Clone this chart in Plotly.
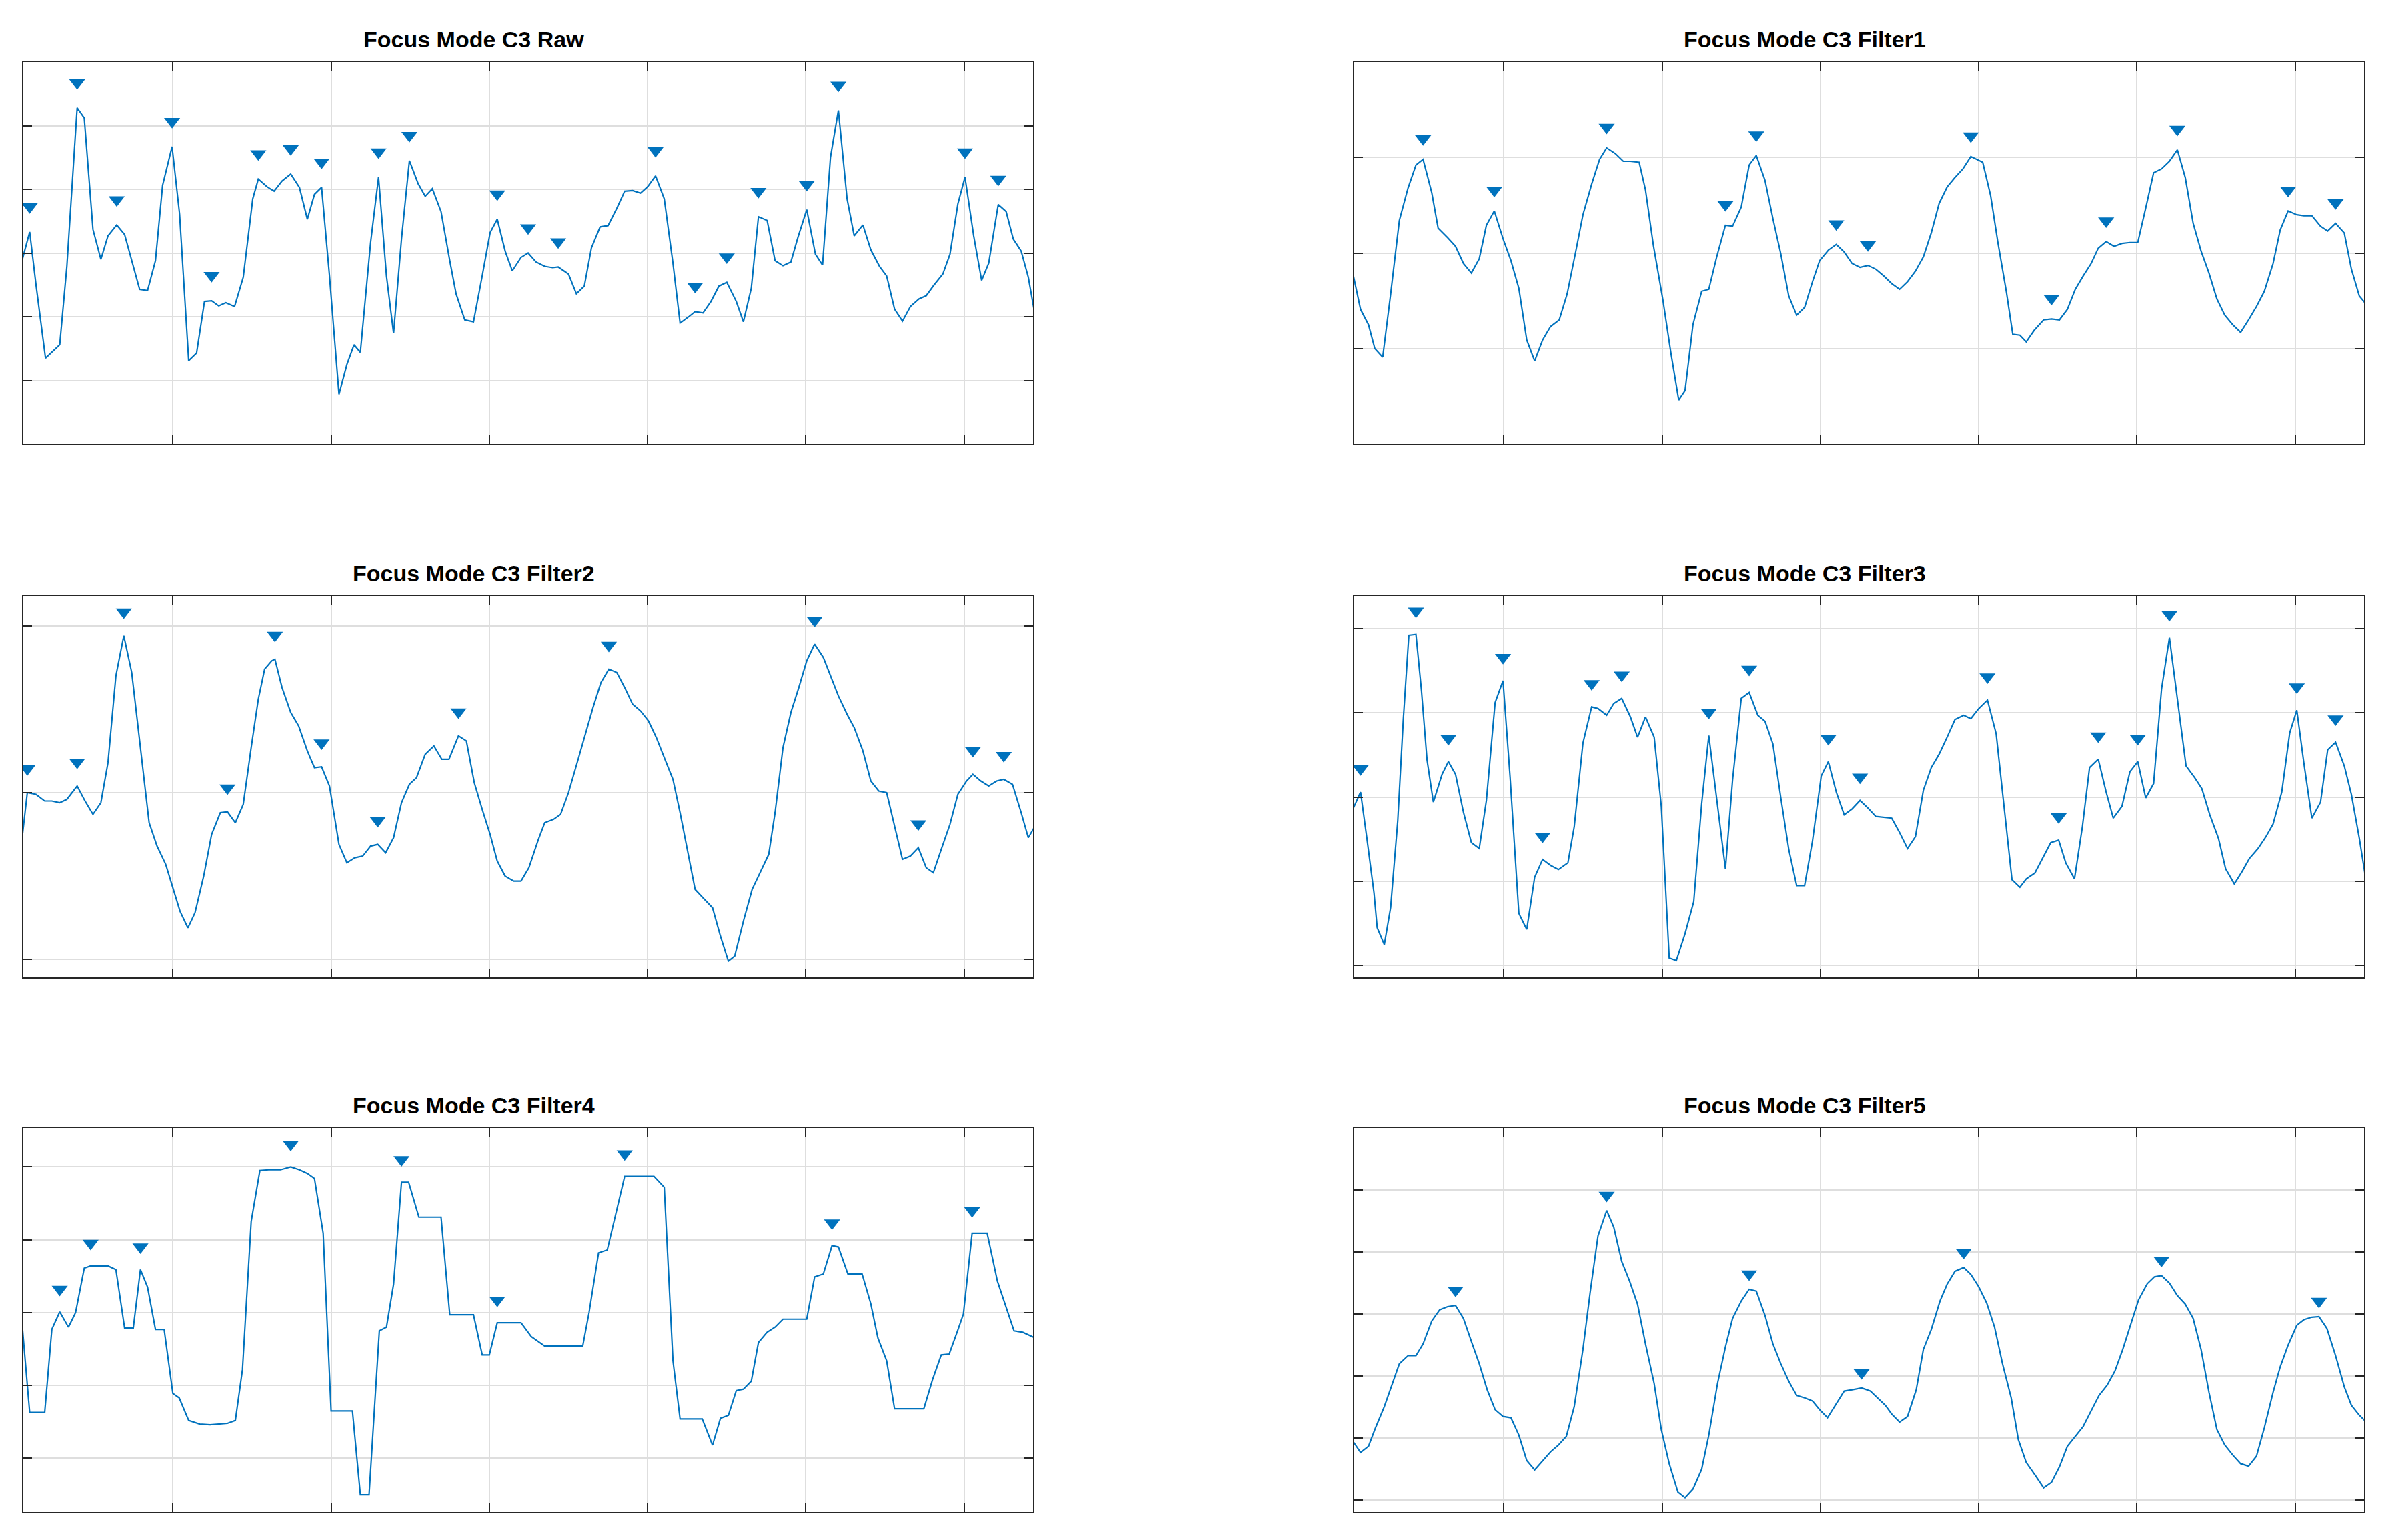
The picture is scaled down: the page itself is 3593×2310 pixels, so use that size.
import numpy as np
import plotly.graph_objects as go

# ---------------- data (sample index, signal value in grid units) ----------------
TITLES = ["Focus Mode C3 Raw", "Focus Mode C3 Filter1",
          "Focus Mode C3 Filter2", "Focus Mode C3 Filter3",
          "Focus Mode C3 Filter4", "Focus Mode C3 Filter5"]

X_TICKS = [20, 40, 60, 80, 100, 120]
X_RANGE = [1.1, 128.7]

RAW_X = [1, 1.9, 2.7, 3.9, 5.7, 6.6, 7.9, 8.8, 9.9, 10.9, 11.8, 12.9, 13.9, 15.0, 15.8, 16.8, 17.8, 18.7, 19.9,
         20.85, 22.0, 23.0, 24.0, 24.9, 25.8, 26.7, 27.8, 28.9, 30.1, 30.8, 31.9, 32.8, 33.8, 34.9, 36.0, 37.0,
         37.9, 38.8, 39.8, 41.0, 42.0, 42.9, 43.7, 45.0, 46.0, 47.0, 47.9, 48.9, 49.9, 51.0, 51.9, 52.8, 53.9,
         55.0, 55.8, 56.9, 58.0, 59.1, 60.1, 61.0, 62.0, 62.9, 64.0, 64.9, 65.9, 67.0, 68.0, 68.7, 70.0, 71.0,
         72.0, 72.9, 74.0, 75.0, 76.1, 77.1, 78.1, 79.1, 80.0, 81.0, 82.1, 83.2, 84.1, 85.2, 86.0, 87.0, 88.0,
         89.0, 90.0, 91.2, 92.1, 93.1, 94.0, 95.1, 96.1, 97.1, 98.1, 99.0, 100.1, 101.2, 102.1, 103.1, 104.1,
         105.2, 106.1, 107.2, 108.2, 109.3, 110.2, 111.2, 112.2, 113.2, 114.3, 115.2, 116.2, 117.3, 118.2,
         119.2, 120.1, 121.2, 122.2, 123.1, 124.3, 125.3, 126.2, 127.2, 128.1, 129.2]
RAW_Y = [-0.09, 0.33, -0.5, -1.65, -1.44, -0.21, 2.28, 2.12, 0.37, -0.1, 0.27, 0.44, 0.29, -0.21, -0.57, -0.59,
         -0.12, 1.06, 1.67, 0.61, -1.69, -1.57, -0.76, -0.75, -0.83, -0.78, -0.84, -0.38, 0.85, 1.16, 1.04, 0.97,
         1.13, 1.24, 1.03, 0.53, 0.92, 1.03, -0.36, -2.22, -1.75, -1.44, -1.56, 0.17, 1.19, -0.36, -1.26, 0.22,
         1.45, 1.09, 0.89, 1.01, 0.65, -0.12, -0.64, -1.05, -1.08, -0.36, 0.32, 0.53, 0.03, -0.28, -0.07, 0.0,
         -0.14, -0.21, -0.23, -0.22, -0.33, -0.64, -0.52, 0.08, 0.41, 0.43, 0.7, 0.97, 0.98, 0.94, 1.04, 1.21,
         0.85, -0.16, -1.1, -1.0, -0.92, -0.94, -0.76, -0.52, -0.46, -0.76, -1.08, -0.55, 0.57, 0.51, -0.12,
         -0.2, -0.14, 0.25, 0.68, -0.02, -0.19, 1.5, 2.24, 0.85, 0.27, 0.44, 0.05, -0.21, -0.36, -0.88, -1.07,
         -0.84, -0.72, -0.67, -0.5, -0.33, -0.02, 0.77, 1.19, 0.27, -0.43, -0.16, 0.76, 0.65, 0.22, 0.03, -0.38,
         -1.15]
RAW_PEAKS = [1.9, 7.9, 12.9, 19.9, 24.9, 30.8, 34.9, 38.8, 46.0, 49.9, 61.0, 64.9, 68.7, 81.0, 86.0, 90.0,
             94.0, 100.1, 104.1, 120.1, 124.3]

F1_X = [1, 1.9, 2.9, 3.7, 4.7, 5.7, 6.8, 7.9, 8.9, 9.8, 10.9, 11.7, 12.9, 13.9, 14.9, 15.9, 16.9, 17.8, 18.8,
        19.9, 20.9, 21.9, 22.9, 23.9, 24.9, 25.9, 27.0, 28.0, 29.1, 30.0, 31.1, 32.1, 33.0, 34.1, 35.1, 36.0,
        37.1, 37.9, 38.9, 40.1, 41.1, 42.1, 42.9, 43.9, 45.0, 45.9, 46.9, 48.0, 48.9, 50.0, 51.0, 51.9, 53.0,
        54.0, 55.0, 56.0, 57.0, 58.0, 59.0, 59.9, 61.0, 62.0, 63.0, 64.0, 65.0, 66.0, 67.0, 68.0, 69.0, 70.0,
        71.0, 72.0, 73.0, 74.0, 75.0, 76.0, 77.0, 78.0, 79.0, 80.5, 81.5, 82.4, 83.5, 84.3, 85.2, 86.0, 87.0,
        88.2, 89.2, 90.2, 91.2, 92.2, 93.2, 94.2, 95.1, 96.1, 97.1, 98.1, 99.1, 100.1, 101.1, 102.1, 103.1,
        104.1, 105.1, 106.1, 107.1, 108.1, 109.1, 110.1, 111.1, 112.1, 113.1, 114.1, 115.1, 116.1, 117.2,
        118.1, 119.1, 120.2, 121.1, 122.1, 123.2, 124.1, 125.1, 126.2, 127.1, 128.1, 129.0]
F1_Y = [-0.24, -0.59, -0.75, -1.0, -1.09, -0.43, 0.34, 0.68, 0.92, 0.98, 0.63, 0.26, 0.16, 0.07, -0.11, -0.21,
        -0.06, 0.29, 0.44, 0.15, -0.08, -0.37, -0.91, -1.13, -0.91, -0.77, -0.7, -0.43, 0.02, 0.4, 0.72, 0.98,
        1.1, 1.04, 0.96, 0.96, 0.95, 0.66, 0.08, -0.49, -1.04, -1.54, -1.44, -0.75, -0.4, -0.38, -0.04, 0.29,
        0.28, 0.48, 0.92, 1.02, 0.76, 0.36, -0.01, -0.45, -0.65, -0.57, -0.3, -0.08, 0.03, 0.09, 0.01, -0.11,
        -0.15, -0.13, -0.17, -0.24, -0.32, -0.38, -0.3, -0.19, -0.04, 0.21, 0.52, 0.69, 0.79, 0.88, 1.01, 0.95,
        0.6, 0.12, -0.41, -0.85, -0.86, -0.93, -0.81, -0.7, -0.69, -0.7, -0.59, -0.38, -0.24, -0.11, 0.05,
        0.12, 0.07, 0.1, 0.11, 0.11, 0.47, 0.84, 0.88, 0.96, 1.08, 0.79, 0.31, 0.02, -0.21, -0.48, -0.65,
        -0.75, -0.83, -0.7, -0.56, -0.4, -0.11, 0.24, 0.44, 0.4, 0.39, 0.39, 0.28, 0.23, 0.31, 0.21, -0.17,
        -0.45, -0.54]
F1_PEAKS = [9.8, 18.8, 33.0, 48.0, 51.9, 62.0, 66.0, 79.0, 89.2, 96.1, 105.1, 119.1, 125.1]

F2_X = [1, 1.6, 2.7, 3.8, 4.7, 5.7, 6.6, 7.9, 8.9, 9.9, 10.9, 11.8, 12.8, 13.8, 14.8, 15.8, 17.0, 18.0, 19.1,
        20.0, 20.9, 21.9, 22.8, 23.9, 24.9, 26.0, 26.9, 27.9, 28.9, 29.9, 30.8, 31.6, 32.5, 32.9, 33.8, 34.9,
        35.9, 37.0, 37.9, 38.8, 39.8, 41.0, 42.0, 43.0, 44.0, 45.0, 45.9, 46.9, 47.9, 48.9, 49.9, 50.8, 51.9,
        53.0, 54.0, 54.9, 56.1, 57.1, 58.1, 59.1, 60.1, 61.0, 62.0, 63.1, 64.0, 65.0, 66.2, 67.0, 68.1, 69.0,
        70.0, 71.1, 72.0, 73.1, 74.1, 75.1, 76.1, 77.1, 78.1, 79.1, 80.1, 81.1, 82.1, 83.2, 84.1, 85.2, 86.0,
        87.0, 88.2, 89.2, 90.2, 91.0, 92.1, 93.2, 94.2, 95.3, 96.1, 97.1, 98.1, 99.1, 100.1, 101.1, 102.2,
        103.1, 104.1, 105.2, 106.1, 107.2, 108.2, 109.2, 110.2, 111.2, 112.2, 113.2, 114.2, 115.2, 116.1,
        117.1, 118.2, 119.2, 120.3, 121.1, 122.1, 123.1, 124.1, 125.0, 126.1, 127.2, 128.1, 129.2]
F2_Y = [-0.25, 0.0, -0.01, -0.05, -0.05, -0.06, -0.04, 0.04, -0.05, -0.13, -0.06, 0.18, 0.7, 0.94, 0.72, 0.3,
        -0.18, -0.32, -0.43, -0.57, -0.71, -0.81, -0.72, -0.5, -0.25, -0.12, -0.115, -0.18, -0.07, 0.27, 0.56,
        0.74, 0.79, 0.8, 0.63, 0.48, 0.4, 0.25, 0.15, 0.155, 0.04, -0.31, -0.42, -0.39, -0.38, -0.32, -0.31,
        -0.36, -0.27, -0.06, 0.05, 0.09, 0.23, 0.28, 0.2, 0.2, 0.34, 0.31, 0.06, -0.1, -0.25, -0.41, -0.5,
        -0.53, -0.53, -0.45, -0.28, -0.18, -0.16, -0.13, 0.0, 0.18, 0.33, 0.51, 0.66, 0.74, 0.72, 0.63, 0.53,
        0.49, 0.43, 0.33, 0.21, 0.08, -0.12, -0.38, -0.58, -0.63, -0.69, -0.86, -1.01, -0.98, -0.77, -0.58,
        -0.48, -0.37, -0.12, 0.27, 0.48, 0.63, 0.79, 0.89, 0.81, 0.7, 0.58, 0.47, 0.39, 0.25, 0.07, 0.01, 0.0,
        -0.2, -0.4, -0.38, -0.33, -0.45, -0.48, -0.34, -0.19, -0.01, 0.07, 0.11, 0.07, 0.04, 0.07, 0.08, 0.05,
        -0.12, -0.27, -0.18]
F2_PEAKS = [1.6, 7.9, 13.8, 26.9, 32.9, 38.8, 45.9, 56.1, 75.1, 101.1, 114.2, 121.1, 125.0]

F3_X = [1, 1.9, 2.7, 3.6, 4.0, 4.9, 5.7, 6.6, 7.3, 8.0, 8.9, 9.6, 10.3, 11.1, 12.2, 13.0, 13.9, 14.9, 15.9,
        16.9, 17.8, 18.9, 19.9, 20.8, 21.9, 22.9, 23.9, 24.9, 25.9, 26.9, 28.1, 28.9, 30.0, 31.1, 31.9, 33.0,
        33.9, 34.9, 36.0, 36.9, 37.9, 39.0, 39.9, 40.9, 41.8, 42.9, 44.0, 45.0, 45.9, 47.0, 48.0, 48.9, 50.0,
        51.0, 52.1, 53.0, 54.0, 55.0, 56.0, 57.0, 58.0, 59.0, 60.1, 61.0, 62.0, 63.0, 64.0, 65.0, 66.0, 67.0,
        68.0, 69.0, 70.0, 71.0, 72.0, 73.0, 74.0, 75.0, 76.0, 77.0, 78.1, 79.0, 80.0, 81.1, 82.2, 83.2, 84.2,
        85.2, 86.0, 87.1, 88.0, 89.1, 90.1, 91.0, 92.1, 93.1, 94.0, 95.1, 96.1, 97.0, 98.1, 99.1, 100.1, 101.1,
        102.1, 103.1, 104.1, 105.1, 106.2, 107.3, 108.2, 109.2, 110.3, 111.2, 112.3, 113.3, 114.2, 115.3,
        116.3, 117.2, 118.3, 119.3, 120.2, 121.1, 122.1, 123.2, 124.1, 125.1, 126.2, 127.1, 128.1, 129.0]
F3_Y = [-0.13, 0.06, -0.49, -1.14, -1.55, -1.75, -1.31, -0.28, 0.92, 1.92, 1.93, 1.26, 0.44, -0.06, 0.27, 0.42,
        0.27, -0.18, -0.54, -0.61, -0.04, 1.12, 1.38, 0.23, -1.38, -1.57, -0.95, -0.74, -0.81, -0.86, -0.78,
        -0.35, 0.64, 1.07, 1.05, 0.97, 1.11, 1.17, 0.95, 0.71, 0.95, 0.71, -0.11, -1.91, -1.94, -1.62, -1.24,
        -0.08, 0.73, -0.11, -0.85, 0.2, 1.17, 1.24, 0.97, 0.9, 0.63, -0.01, -0.62, -1.05, -1.05, -0.52, 0.25,
        0.42, 0.06, -0.21, -0.14, -0.04, -0.13, -0.23, -0.24, -0.25, -0.42, -0.61, -0.47, 0.08, 0.35, 0.51,
        0.71, 0.92, 0.97, 0.93, 1.05, 1.15, 0.75, -0.11, -0.98, -1.07, -0.97, -0.9, -0.74, -0.54, -0.51, -0.78,
        -0.97, -0.35, 0.35, 0.45, 0.06, -0.25, -0.11, 0.3, 0.42, -0.01, 0.16, 1.28, 1.89, 1.16, 0.37, 0.23,
        0.1, -0.21, -0.49, -0.85, -1.03, -0.88, -0.73, -0.61, -0.47, -0.32, 0.06, 0.76, 1.03, 0.4, -0.25,
        -0.06, 0.56, 0.65, 0.37, 0.03, -0.49, -1.02]
F3_PEAKS = [1.9, 8.9, 13.0, 19.9, 24.9, 31.1, 34.9, 45.9, 51.0, 61.0, 65.0, 81.1, 90.1, 95.1, 100.1, 104.1,
            120.2, 125.1]

F4_X = [1, 1.9, 3.8, 4.7, 5.7, 6.8, 7.7, 8.8, 9.6, 11.8, 12.8, 13.9, 15.0, 15.9, 16.8, 17.8, 18.9, 20.0, 20.8,
        22.0, 23.4, 24.7, 26.9, 27.9, 28.8, 29.9, 31.0, 32.1, 33.6, 34.9, 36.0, 37.0, 37.9, 39.0, 40.0, 42.7,
        43.7, 44.8, 46.1, 47.0, 47.9, 48.9, 49.8, 51.1, 53.9, 55.0, 58.0, 59.1, 60.0, 61.0, 64.0, 65.3, 67.0,
        71.8, 72.6, 73.8, 74.9, 75.9, 77.1, 80.8, 82.1, 83.2, 84.1, 86.9, 88.2, 89.2, 90.2, 91.2, 92.1, 93.1,
        94.0, 95.1, 96.1, 97.1, 100.1, 101.1, 102.2, 103.3, 104.1, 105.3, 107.1, 108.2, 109.1, 110.2, 111.2,
        114.9, 116.0, 117.1, 118.1, 119.1, 119.9, 121.0, 122.9, 124.2, 125.3, 126.3, 127.4, 129.2]
F4_Y = [-0.23, -1.37, -1.37, -0.23, 0.01, -0.2, 0.0, 0.61, 0.64, 0.64, 0.59, -0.21, -0.21, 0.59, 0.35, -0.23,
        -0.23, -1.11, -1.17, -1.48, -1.53, -1.54, -1.52, -1.48, -0.78, 1.25, 1.95, 1.96, 1.96, 2.0, 1.96, 1.91,
        1.84, 1.09, -1.35, -1.35, -2.5, -2.5, -0.25, -0.2, 0.39, 1.79, 1.79, 1.31, 1.31, -0.03, -0.03, -0.58,
        -0.58, -0.14, -0.14, -0.33, -0.46, -0.46, 0.0, 0.82, 0.86, 1.33, 1.87, 1.87, 1.72, -0.66, -1.46, -1.46,
        -1.82, -1.45, -1.41, -1.07, -1.05, -0.94, -0.41, -0.27, -0.2, -0.09, -0.09, 0.49, 0.53, 0.92, 0.9,
        0.53, 0.53, 0.12, -0.35, -0.66, -1.32, -1.32, -0.92, -0.58, -0.57, -0.27, -0.02, 1.09, 1.09, 0.43,
        0.08, -0.25, -0.27, -0.36]
F4_PEAKS = [5.7, 9.6, 15.9, 34.9, 48.9, 61.0, 77.1, 103.3, 121.0]

F5_X = [1, 1.9, 2.9, 3.7, 4.9, 5.9, 6.8, 7.9, 8.9, 9.8, 10.9, 11.9, 12.9, 13.9, 14.9, 15.9, 16.9, 17.9, 18.9,
        19.9, 20.9, 21.9, 22.9, 23.9, 24.9, 25.9, 26.9, 27.9, 28.9, 30.0, 30.9, 31.9, 33.0, 33.9, 34.9, 35.9,
        36.9, 37.9, 39.0, 39.9, 40.9, 42.0, 42.9, 43.9, 45.0, 45.9, 47.0, 48.0, 48.9, 50.0, 51.0, 51.9, 53.0,
        54.0, 55.0, 56.0, 57.0, 58.0, 59.0, 59.9, 60.9, 62.0, 63.0, 64.0, 65.2, 66.3, 67.2, 68.2, 69.0, 70.0,
        71.0, 72.1, 73.0, 74.0, 75.1, 76.0, 77.0, 78.1, 79.0, 80.0, 81.0, 82.0, 83.0, 84.1, 85.0, 86.0, 87.1,
        88.2, 89.2, 90.2, 91.2, 92.2, 93.2, 94.2, 95.2, 96.2, 97.2, 98.2, 99.2, 100.2, 101.3, 102.2, 103.1,
        104.1, 105.1, 106.1, 107.1, 108.1, 109.1, 110.1, 111.1, 112.1, 113.1, 114.1, 115.1, 116.1, 117.2,
        118.1, 119.1, 120.2, 121.1, 122.1, 123.0, 124.0, 125.1, 126.2, 127.1, 128.1, 129.0]
F5_Y = [-1.06, -1.23, -1.13, -0.86, -0.49, -0.12, 0.2, 0.33, 0.33, 0.52, 0.89, 1.07, 1.12, 1.14, 0.93, 0.56,
        0.2, -0.22, -0.54, -0.65, -0.67, -0.95, -1.36, -1.51, -1.36, -1.22, -1.11, -0.97, -0.49, 0.43, 1.34,
        2.26, 2.67, 2.4, 1.85, 1.53, 1.16, 0.52, -0.12, -0.86, -1.41, -1.87, -1.96, -1.82, -1.5, -0.95, -0.12,
        0.47, 0.93, 1.21, 1.4, 1.37, 0.98, 0.52, 0.2, -0.08, -0.31, -0.35, -0.4, -0.54, -0.67, -0.44, -0.24,
        -0.22, -0.19, -0.24, -0.35, -0.47, -0.61, -0.74, -0.65, -0.22, 0.43, 0.75, 1.21, 1.48, 1.69, 1.75,
        1.64, 1.44, 1.18, 0.79, 0.2, -0.35, -1.02, -1.39, -1.59, -1.8, -1.71, -1.46, -1.13, -0.97, -0.81,
        -0.56, -0.31, -0.15, 0.08, 0.43, 0.84, 1.23, 1.49, 1.6, 1.62, 1.5, 1.3, 1.16, 0.93, 0.43, -0.26, -0.86,
        -1.11, -1.27, -1.41, -1.45, -1.29, -0.83, -0.26, 0.15, 0.5, 0.82, 0.91, 0.95, 0.96, 0.77, 0.33, -0.17,
        -0.47, -0.63, -0.74]
F5_PEAKS = [13.9, 33.0, 51.0, 65.2, 78.1, 103.1, 123.0]

Y_RANGES = [[-3, 3], [-2, 2], [-1.107, 1.179], [-2.139, 2.386], [-2.737, 2.534], [-2.19, 4.0]]
Y_TICKS = [[-2, -1, 0, 1, 2], [-1, 0, 1], [-1, 0, 1], [-2, -1, 0, 1, 2], [-2, -1, 0, 1, 2],
           [-2, -1, 0, 1, 2, 3]]

SERIES = [(RAW_X, RAW_Y, RAW_PEAKS), (F1_X, F1_Y, F1_PEAKS), (F2_X, F2_Y, F2_PEAKS),
          (F3_X, F3_Y, F3_PEAKS), (F4_X, F4_Y, F4_PEAKS), (F5_X, F5_Y, F5_PEAKS)]

# ---------------- styling / layout ----------------
W, H = 3593, 2310
BLUE = "#0072BD"
AX = "#262626"
GRID = "#dedede"
MSIZE = 21
TIP_GAP = [23, 16, 21, 20, 19, 8]  # pixel gap between triangle tip and the peak
COLS = [(35, 1549), (2031, 3545)]
ROWS = [(93, 666), (894, 1466), (1692, 2268)]
TITLE_DX = -82

fig = go.Figure()
annotations = []
for i, (xs, ys, peaks) in enumerate(SERIES):
    r, c = divmod(i, 2)
    x0, x1 = COLS[c]
    top, bot = ROWS[r]
    sfx = "" if i == 0 else str(i + 1)
    xa, ya = "x" + sfx, "y" + sfx
    xs = np.asarray(xs, float)
    ys = np.asarray(ys, float)
    ylo, yhi = Y_RANGES[i]
    px_per_unit = (bot - top) / (yhi - ylo)
    peak_y = np.interp(peaks, xs, ys)
    marker_y = peak_y + (TIP_GAP[i] + 0.707 * MSIZE) / px_per_unit

    fig.add_trace(go.Scatter(x=xs, y=ys, mode="lines", line=dict(color=BLUE, width=2.2),
                             xaxis=xa, yaxis=ya, showlegend=False, hoverinfo="skip"))
    fig.add_trace(go.Scatter(x=peaks, y=marker_y, mode="markers",
                             marker=dict(symbol="triangle-down", size=MSIZE, color=BLUE, line=dict(width=0)),
                             xaxis=xa, yaxis=ya, showlegend=False, hoverinfo="skip"))

    common = dict(showgrid=True, gridcolor=GRID, gridwidth=2, zeroline=False, showline=True,
                  linecolor=AX, linewidth=2, mirror="ticks", ticks="inside", ticklen=13, tickwidth=2,
                  tickcolor=AX, showticklabels=False)
    fig.layout["xaxis" + sfx] = dict(domain=[x0 / W, x1 / W], range=X_RANGE, tickmode="array",
                                     tickvals=X_TICKS, anchor=ya, **common)
    fig.layout["yaxis" + sfx] = dict(domain=[1 - bot / H, 1 - top / H], range=[ylo, yhi], tickmode="array",
                                     tickvals=Y_TICKS[i], anchor=xa, **common)
    annotations.append(dict(text="<b>" + TITLES[i] + "</b>", xref="paper", yref="paper",
                            x=((x0 + x1) / 2 + TITLE_DX) / W, y=1 - top / H, xanchor="center",
                            yanchor="middle", yshift=34, showarrow=False,
                            font=dict(family="Liberation Sans, Arial, sans-serif", size=34, color="black")))

fig.update_layout(width=W, height=H, margin=dict(l=0, r=0, t=0, b=0, pad=0), paper_bgcolor="white",
                  plot_bgcolor="white", annotations=annotations, showlegend=False)

fig.write_html("out.html", config={"displayModeBar": False},
               post_script="document.body.style.margin='0';document.body.style.overflow='hidden';")
